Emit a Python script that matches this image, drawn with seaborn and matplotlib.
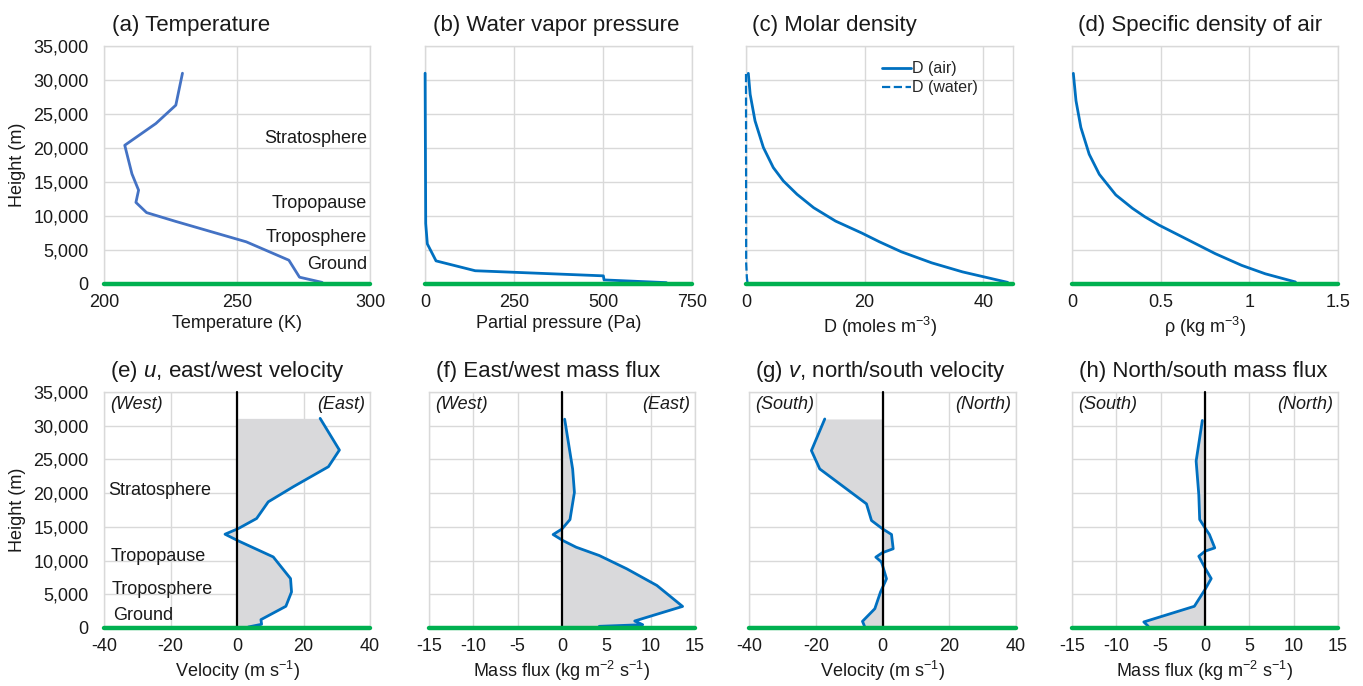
import matplotlib
matplotlib.use("Agg")
import matplotlib.pyplot as plt
import seaborn as sns
from matplotlib.ticker import FuncFormatter, MultipleLocator

# Values (heights in m)
temp_h = [240, 1000, 3500, 6200, 7500, 9200, 10500, 12000, 13800, 16200, 20400, 23600, 26300, 31000]
temp_k = [282, 273.5, 269.5, 253.5, 242, 227, 216, 212, 213, 210.5, 207.8, 219.5, 227, 229.5]

vap_h = [200, 600, 1200, 1950, 3400, 5900, 8900, 31000]
vap_pa = [678, 503, 501, 141, 31, 6.5, 2, 0.3]

air_h = [240, 1780, 3110, 4730, 6200, 7500, 9250, 11220, 13190, 15150, 17120, 20070, 24000, 27900, 30980]
air_d = [44.1, 36.5, 31.3, 26.2, 22.5, 19.5, 15.1, 11.4, 8.6, 6.3, 4.6, 2.93, 1.52, 0.7, 0.39]
water_h = [240, 900, 3000, 31000]
water_d = [0.25, 0.15, 0.03, 0.0]

rho_h = [300, 1500, 2740, 4460, 6950, 8670, 9900, 11130, 13100, 16130, 19080, 23020, 26950, 30980]
rho = [1.26, 1.09, 0.957, 0.808, 0.62, 0.49, 0.41, 0.341, 0.247, 0.154, 0.097, 0.05, 0.0225, 0.0075]

u_h = [150, 550, 1240, 3220, 5350, 7330, 10540, 12920, 13910, 14750, 16240, 18710, 20940, 23920, 26390, 31090]
u_ms = [3.4, 7.4, 7.2, 14.7, 16.4, 16.1, 10.9, 0.4, -3.6, 0.4, 5.9, 9.4, 16.9, 27.5, 30.8, 25.0]

fu_h = [250, 490, 1040, 3200, 6310, 8780, 10750, 11980, 12970, 13860, 14690, 16080, 20120, 23570, 30970]
fu_flux = [4.2, 9.1, 8.2, 13.6, 10.7, 7.3, 4.2, 1.6, 0.1, -1.0, 0.0, 0.9, 1.4, 1.2, 0.3]

v_h = [150, 990, 2860, 5330, 7300, 9770, 10510, 11150, 11750, 13870, 14710, 15940, 18410, 23590, 26310, 31000]
v_ms = [-5.3, -6.0, -2.3, -0.6, 1.2, -0.3, -2.0, -0.1, 3.2, 2.7, 0.0, -3.3, -4.8, -18.8, -21.3, -17.3]

fv_h = [250, 900, 3220, 5700, 7330, 8910, 10640, 11390, 11880, 13860, 14850, 16090, 19800, 24750, 30780]
fv_flux = [-6.4, -6.9, -1.2, 0.0, 0.7, 0.0, -0.7, 0.0, 1.1, 0.5, 0.0, -0.6, -0.7, -1.0, -0.3]

layer_names = ["Stratosphere", "Tropopause", "Troposphere", "Ground"]

sns.set_theme(style="whitegrid")
plt.rcParams["font.family"] = ["Liberation Sans", "DejaVu Sans"]
plt.rcParams["axes.unicode_minus"] = False
plt.rcParams["mathtext.fontset"] = "custom"
plt.rcParams["mathtext.rm"] = "Liberation Sans"
plt.rcParams["mathtext.it"] = "Liberation Sans:italic"

W, H = 1363, 686
fig = plt.figure(figsize=(W / 100, H / 100), dpi=100)
fig.patch.set_facecolor("white")

BLUE = "#0070c0"
GREEN = "#00b050"
GRID = "#d9d9d9"
FILL = "#d9d9db"
TXT = "#1a1a1a"


def add_ax(left, right, top, bottom):
    return fig.add_axes([left / W, 1 - bottom / H, (right - left) / W, (bottom - top) / H])


def style(ax, xlim, xstep, xlabel, show_y=False):
    ax.set_facecolor("white")
    ax.set_xlim(*xlim)
    ax.set_ylim(0, 35000)
    ax.xaxis.set_major_locator(MultipleLocator(xstep))
    ax.yaxis.set_major_locator(MultipleLocator(5000))
    ax.xaxis.set_major_formatter(FuncFormatter(lambda v, p: f"{v:g}"))
    ax.yaxis.set_major_formatter(FuncFormatter(lambda v, p: f"{v:,.0f}"))
    ax.grid(True, color=GRID, linewidth=1)
    for s in ax.spines.values():
        s.set_color(GRID)
        s.set_linewidth(1)
    ax.tick_params(axis="x", length=0, labelsize=13, colors=TXT, pad=7)
    ax.tick_params(axis="y", length=0, labelsize=13, colors=TXT, pad=11)
    ax.set_xlabel(xlabel, fontsize=13, color=TXT, labelpad=3)
    if show_y:
        ax.set_ylabel("Height (m)", fontsize=13, color=TXT, labelpad=5)
    else:
        ax.set_ylabel("")
        ax.tick_params(axis="y", labelleft=False)
    # lines sitting on the axis edge should not be cut or hidden by the frame
    for ln in ax.lines:
        ln.set_clip_on(False)
        ln.set_zorder(max(ln.get_zorder(), 4))
    ax.axhline(0, color=GREEN, lw=3.2, clip_on=False, zorder=6)


def title(x, y, s):
    fig.text(x / W, 1 - y / H, s, ha="center", va="center", fontsize=16, color=TXT)


# ---- top row ----
ax_a = add_ax(104, 370, 46, 284)
sns.lineplot(x=temp_k, y=temp_h, ax=ax_a, sort=False, estimator=None, color="#4472c4", linewidth=2)
style(ax_a, (200, 300), 50, "Temperature (K)", show_y=True)
for name, hh in zip(layer_names, [21470, 11910, 6910, 2940]):
    ax_a.text(299, hh, name, ha="right", va="center", fontsize=13, color=TXT)

ax_b = add_ax(425, 692, 46, 284)
sns.lineplot(x=vap_pa, y=vap_h, ax=ax_b, sort=False, estimator=None, color=BLUE, linewidth=2)
style(ax_b, (0, 750), 250, "Partial pressure (Pa)")

ax_c = add_ax(746, 1013, 46, 284)
sns.lineplot(x=air_d, y=air_h, ax=ax_c, sort=False, estimator=None, color=BLUE, linewidth=2, label="D (air)")
sns.lineplot(x=water_d, y=water_h, ax=ax_c, sort=False, estimator=None, color=BLUE, linewidth=1.6,
             linestyle="--", label="D (water)")
style(ax_c, (0, 45), 20, "D (moles m$^{-3}$)")
ax_c.legend(loc="upper right", bbox_to_anchor=(0.9, 0.97), frameon=False, fontsize=11.5,
            handlelength=1.8, handletextpad=0.1, labelspacing=0.25, borderpad=0)

ax_d = add_ax(1072, 1338, 46, 284)
sns.lineplot(x=rho, y=rho_h, ax=ax_d, sort=False, estimator=None, color=BLUE, linewidth=2)
style(ax_d, (0, 1.5), 0.5, "\u03c1 (kg m$^{-3}$)")


# ---- bottom row ----
def wind_panel(ax, xs, hs, xlim, xstep, xlabel, left_word, right_word, show_y=False):
    ax.fill_betweenx(hs, 0, xs, color=FILL, linewidth=0, zorder=2)
    sns.lineplot(x=xs, y=hs, ax=ax, sort=False, estimator=None, color=BLUE, linewidth=2, zorder=4)
    ax.axvline(0, color="black", lw=1.6, zorder=5)
    style(ax, xlim, xstep, xlabel, show_y=show_y)
    span = xlim[1] - xlim[0]
    ax.text(xlim[0] + 0.022 * span, 33100, left_word, ha="left", va="center",
            fontsize=13, style="italic", color=TXT)
    ax.text(xlim[1] - 0.02 * span, 33100, right_word, ha="right", va="center",
            fontsize=13, style="italic", color=TXT)


ax_e = add_ax(104, 370, 392, 628)
wind_panel(ax_e, u_ms, u_h, (-40, 40), 20, "Velocity (m s$^{-1}$)", "(West)", "(East)", show_y=True)
for name, hh, xx in zip(layer_names, [20320, 10530, 5780, 1780], [-38.6, -38.0, -37.8, -37.4]):
    ax_e.text(xx, hh, name, ha="left", va="center", fontsize=13, color=TXT)

ax_f = add_ax(429, 695, 392, 628)
wind_panel(ax_f, fu_flux, fu_h, (-15, 15), 5, "Mass flux (kg m$^{-2}$ s$^{-1}$)", "(West)", "(East)")

ax_g = add_ax(749, 1016, 392, 628)
wind_panel(ax_g, v_ms, v_h, (-40, 40), 20, "Velocity (m s$^{-1}$)", "(South)", "(North)")

ax_h = add_ax(1072, 1338, 392, 628)
wind_panel(ax_h, fv_flux, fv_h, (-15, 15), 5, "Mass flux (kg m$^{-2}$ s$^{-1}$)", "(South)", "(North)")

title(191, 26, "(a) Temperature")
title(556, 26, "(b) Water vapor pressure")
title(834, 26, "(c) Molar density")
title(1200, 26, "(d) Specific density of air")
title(227, 372, "(e) $u$, east/west velocity")
title(548, 372, "(f) East/west mass flux")
title(880, 372, "(g) $v$, north/south velocity")
title(1203, 372, "(h) North/south mass flux")

fig.savefig("out.png", dpi=100, facecolor="white")
